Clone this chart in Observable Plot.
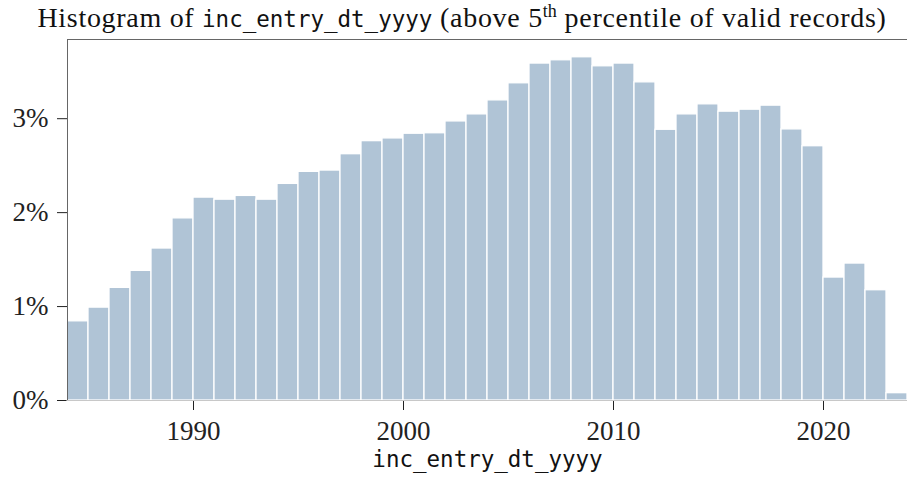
<!DOCTYPE html>
<html><head><meta charset="utf-8">
<script src="https://cdn.jsdelivr.net/npm/d3@7"></script>
<script src="https://cdn.jsdelivr.net/npm/@observablehq/plot@0.6"></script>
<style>
body{margin:0;background:#fff;}
#title{height:38px;width:907px;position:relative;font-family:"Liberation Serif",serif;font-size:28px;color:#111;}
#title .t{position:absolute;left:0;right:0;text-align:center;padding-left:17px;top:2px;white-space:nowrap;line-height:32px;letter-spacing:0.7px;}
#title .mono{font-family:"DejaVu Sans Mono",monospace;font-size:22.5px;letter-spacing:0;}
#title sup{font-size:18px;line-height:0;vertical-align:0.55em;letter-spacing:0;}
</style>
</head><body>
<div id="title"><span class="t">Histogram of <span class="mono">inc_entry_dt_yyyy</span> (above 5<sup>th</sup> percentile of valid records)</span></div>
<div id="chart"></div>
<script>
const binStart = [1984,1985,1986,1987,1988,1989,1990,1991,1992,1993,1994,1995,1996,1997,1998,1999,2000,2001,2002,2003,2004,2005,2006,2007,2008,2009,2010,2011,2012,2013,2014,2015,2016,2017,2018,2019,2020,2021,2022,2023];
const binEnd = [1985,1986,1987,1988,1989,1990,1991,1992,1993,1994,1995,1996,1997,1998,1999,2000,2001,2002,2003,2004,2005,2006,2007,2008,2009,2010,2011,2012,2013,2014,2015,2016,2017,2018,2019,2020,2021,2022,2023,2024];
const percent = [0.843,0.989,1.199,1.380,1.618,1.939,2.160,2.138,2.178,2.138,2.306,2.434,2.448,2.622,2.761,2.790,2.840,2.845,2.971,3.046,3.195,3.377,3.587,3.622,3.654,3.558,3.587,3.387,2.882,3.046,3.153,3.075,3.096,3.139,2.886,2.707,1.309,1.458,1.174,0.078];
const xTicks = [1990,2000,2010,2020];
const yTicks = [0,1,2,3];
const xDomain = [1984,2024];
const yDomain = [0,3.843];
const xLabel = "inc_entry_dt_yyyy";

const data = binStart.map((s,i)=>({start:s,end:binEnd[i],pct:percent[i]}));

const chart = Plot.plot({
  width: 907, height: 440,
  marginLeft: 67, marginRight: 0, marginTop: 1, marginBottom: 78,
  style: {fontFamily: "Liberation Serif, serif", fontSize: "27px", color: "#222", background: "white"},
  x: {domain: xDomain, ticks: xTicks, tickFormat: d => String(d), tickSize: 10, tickPadding: 10, label: null},
  y: {domain: yDomain, ticks: yTicks, tickFormat: d => d + "%", tickSize: 10, tickPadding: 9, label: null},
  marks: [
    Plot.rectY(data, {x1: "start", x2: "end", y: "pct", fill: "#b0c4d6", stroke: "white", strokeWidth: 1.3}),
    Plot.ruleY([0], {stroke: "#c8c8c8", strokeWidth: 1.2}),
    Plot.ruleX([xDomain[0]], {stroke: "#666"}),
    Plot.ruleY([yDomain[1]], {stroke: "#666"}),
    Plot.text([xLabel], {frameAnchor: "bottom", dy: 66, fontFamily: "DejaVu Sans Mono, monospace", fontSize: 22.5, fill: "#111"})
  ]
});
document.getElementById("chart").appendChild(chart);
</script>
</body></html>
